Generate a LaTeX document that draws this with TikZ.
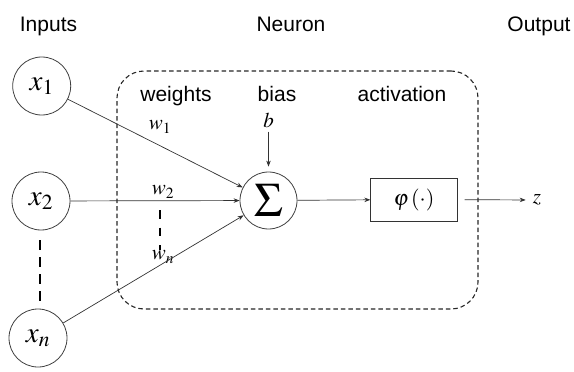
\documentclass[tikz,border=0pt]{standalone}
\usepackage{mathptmx}
\usepackage[no-math]{fontspec}
\setsansfont{Liberation Sans}
\usetikzlibrary{arrows.meta}
\begin{document}
\begin{tikzpicture}[x=1pt,y=-1pt,
  inp/.style={circle,draw=black!75,line width=0.8pt,minimum size=58pt,inner sep=0pt,font=\fontsize{29}{31}\selectfont},
  lbl/.style={font=\sffamily\fontsize{21}{25}\selectfont,anchor=base,inner sep=0pt},
  mlbl/.style={font=\fontsize{21}{24}\selectfont,inner sep=0pt},
  conn/.style={draw=black!80,line width=0.7pt,-{Stealth[length=6pt,width=4.5pt]}},
  thickdash/.style={line width=2.6pt,dash pattern=on 10pt off 7pt},
  neuronbox/.style={draw=black!85,line width=1.1pt,dash pattern=on 4.5pt off 3pt,rounded corners=27pt}]
\useasboundingbox (0,0) rectangle (574,372);
\node[lbl] (tin) at (48.5,31) {Inputs};
\node[lbl] (tne) at (291,31) {Neuron};
\node[lbl] (tout) at (539,31) {Output};
\node[neuronbox,minimum width=361pt,minimum height=238pt] (neuron) at (297.5,190) {};
\node[lbl] (tw) at (176,101) {weights};
\node[lbl] (tb) at (277,101) {bias};
\node[lbl] (ta) at (402,101) {activation};
\node[inp] (x1) at (41.7,86) {$x_1$};
\node[inp] (x2) at (41,201) {$x_2$};
\node[inp] (xn) at (38,338) {$x_n$};
\node[circle,draw=black!75,line width=0.8pt,minimum size=57pt,inner sep=0pt] (sum) at (268.5,200.5) {\fontsize{48}{48}\selectfont$\Sigma$};
\node[draw=black!80,line width=0.8pt,minimum width=86.5pt,minimum height=43pt,font=\fontsize{22}{24}\selectfont] (act) at (414,199.5) {$\varphi\,(\cdot)$};
\node[mlbl,inner sep=3pt] (z) at (537,200) {$z$};
\node[mlbl] (b) at (268.5,120) {$b$};
\node[mlbl] (w1) at (160,127) {$w_1$};
\node[mlbl] (w2) at (163,192) {$w_2$};
\node[mlbl] (wn) at (163,257) {$w_n$};
\coordinate (d1) at (40,240);
\coordinate (d2) at (40,302);
\coordinate (e1) at (160,210);
\coordinate (e2) at (160,250);
\draw[conn] (x1) -- (sum);
\draw[conn] (x2) -- (sum);
\draw[conn] (xn) -- (sum);
\draw[conn,shorten <=4pt,shorten >=5pt] (b) -- (sum);
\draw[conn] (sum) -- (act);
\draw[conn,shorten <=7pt,shorten >=4pt] (act) -- (z);
\draw[thickdash] (d1) -- (d2);
\draw[line width=2.4pt,dash pattern=on 8.5pt off 9pt] (e1) -- (e2);
\end{tikzpicture}
\end{document}
